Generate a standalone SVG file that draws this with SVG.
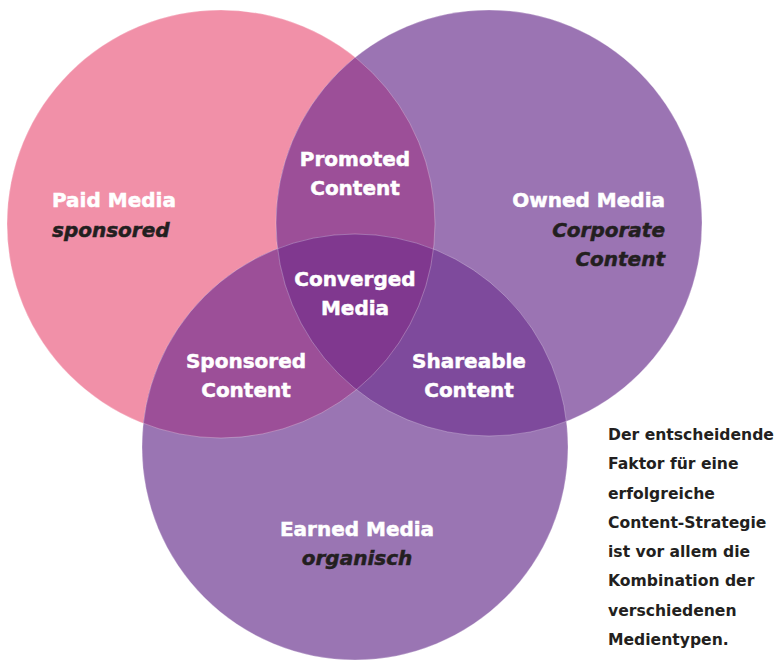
<svg xmlns="http://www.w3.org/2000/svg" width="777" height="663" viewBox="0 0 777 663">
  <style>
    .lbl { font-family: "DejaVu Sans", "Liberation Sans", sans-serif; font-weight: bold; font-size: 20px; fill: #ffffff; stroke: #ffffff; stroke-width: 0.5; }
    .sub { font-family: "DejaVu Sans", "Liberation Sans", sans-serif; font-weight: bold; font-style: italic; font-size: 20px; fill: #231f20; stroke: #231f20; stroke-width: 0.5; }
    .note { font-family: "DejaVu Sans", "Liberation Sans", sans-serif; font-weight: bold; font-size: 15.6px; fill: #231f20; }
    .edge { fill: none; stroke: #ffffff; stroke-opacity: 0.35; stroke-width: 0.8; }
  </style>
  <defs>
    <clipPath id="clipPaid"><circle cx="221" cy="224" r="214"/></clipPath>
    <clipPath id="clipOwned"><circle cx="489" cy="223" r="213"/></clipPath>
  </defs>

  <rect width="777" height="663" fill="#ffffff"/>

  <!-- single circles -->
  <g id="paid-media">
    <circle cx="221" cy="224" r="214" fill="#f190a8"/>
  </g>
  <g id="owned-media">
    <circle cx="489" cy="223" r="213" fill="#9b74b3"/>
  </g>
  <g id="earned-media">
    <circle cx="355" cy="447" r="213" fill="#9a75b3"/>
  </g>

  <!-- pairwise overlaps -->
  <g id="promoted-content" clip-path="url(#clipPaid)">
    <circle cx="489" cy="223" r="213" fill="#9c4f98"/>
  </g>
  <g id="sponsored-content" clip-path="url(#clipPaid)">
    <circle cx="355" cy="447" r="213" fill="#9c4f98"/>
  </g>
  <g id="shareable-content" clip-path="url(#clipOwned)">
    <circle cx="355" cy="447" r="213" fill="#7e4a9c"/>
  </g>

  <!-- triple overlap -->
  <g id="converged-media" clip-path="url(#clipPaid)">
    <g clip-path="url(#clipOwned)">
      <circle cx="355" cy="447" r="213" fill="#80388f"/>
    </g>
  </g>

  <!-- faint seams along the circle outlines -->
  <g id="seams">
    <circle class="edge" cx="221" cy="224" r="214"/>
    <circle class="edge" cx="489" cy="223" r="213"/>
    <circle class="edge" cx="355" cy="447" r="213"/>
  </g>

  <!-- labels -->
  <g id="labels">
    <text class="lbl" x="52" y="207">Paid Media</text>
    <text class="sub" x="52" y="237">sponsored</text>

    <text class="lbl" x="665" y="207" text-anchor="end">Owned Media</text>
    <text class="sub" x="665" y="237" text-anchor="end">Corporate</text>
    <text class="sub" x="665" y="266" text-anchor="end">Content</text>

    <text class="lbl" x="355" y="166" text-anchor="middle">Promoted</text>
    <text class="lbl" x="355" y="195" text-anchor="middle">Content</text>

    <text class="lbl" x="355" y="286" text-anchor="middle">Converged</text>
    <text class="lbl" x="355" y="315" text-anchor="middle">Media</text>

    <text class="lbl" x="246" y="368" text-anchor="middle">Sponsored</text>
    <text class="lbl" x="246" y="397" text-anchor="middle">Content</text>

    <text class="lbl" x="469" y="368" text-anchor="middle">Shareable</text>
    <text class="lbl" x="469" y="397" text-anchor="middle">Content</text>

    <text class="lbl" x="357" y="536" text-anchor="middle">Earned Media</text>
    <text class="sub" x="357" y="565" text-anchor="middle">organisch</text>
  </g>

  <!-- side note -->
  <g id="note">
    <text class="note" x="608" y="440">Der entscheidende</text>
    <text class="note" x="608" y="469.3">Faktor für eine</text>
    <text class="note" x="608" y="498.6">erfolgreiche</text>
    <text class="note" x="608" y="527.9">Content-Strategie</text>
    <text class="note" x="608" y="557.1">ist vor allem die</text>
    <text class="note" x="608" y="586.4">Kombination der</text>
    <text class="note" x="608" y="615.7">verschiedenen</text>
    <text class="note" x="608" y="645">Medientypen.</text>
  </g>
</svg>
